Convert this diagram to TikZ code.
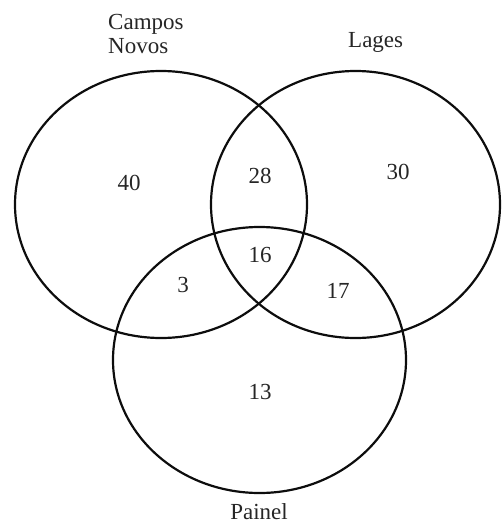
\documentclass[tikz,border=0pt]{standalone}
\usepackage{fontspec}
\setmainfont{Liberation Serif}
\begin{document}
\begin{tikzpicture}[x=1pt,y=-1pt,
  setline/.style={draw=black!95, line width=2.2pt},
  lab/.style={inner sep=0pt, font=\fontsize{23}{24}\selectfont, text=black!85}]
\useasboundingbox (0,0) rectangle (502,525);
\draw[setline] (161,204.5) ellipse [x radius=146, y radius=133.5];
\draw[setline] (355.5,204.5) ellipse [x radius=144.5, y radius=133.5];
\draw[setline] (259.5,360) ellipse [x radius=146.5, y radius=133];
\node[lab, anchor=base west] (cn) at (108,29) {Campos};
\node[lab, anchor=base west] (cn2) at (108,53) {Novos};
\node[lab, anchor=base west] (lg) at (348,47) {Lages};
\node[lab] (pn) at (259,512) {Painel};
\node[lab] (n40) at (129,183) {40};
\node[lab] (n28) at (260,176) {28};
\node[lab] (n30) at (398,172) {30};
\node[lab] (n16) at (260,255) {16};
\node[lab] (n3) at (183,284.5) {3};
\node[lab] (n17) at (338,290.5) {17};
\node[lab] (n13) at (260,391.5) {13};
\end{tikzpicture}
\end{document}
